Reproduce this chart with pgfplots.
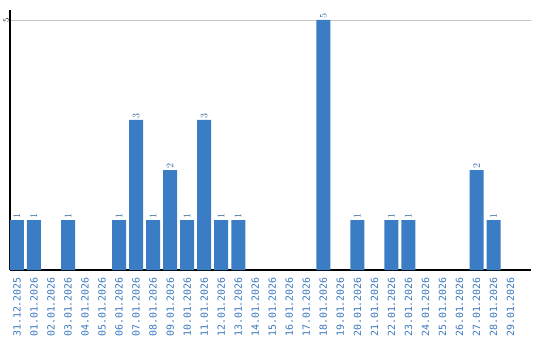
\documentclass[border=0pt]{standalone}
\usepackage{pgfplots}
\pgfplotsset{compat=1.18}
\usepackage{fontspec}
\setmainfont{DejaVu Sans}
\newfontfamily\lblfont{DejaVu Sans Mono}
\definecolor{barblue}{HTML}{3B7DC4}
\definecolor{lblblue}{HTML}{3A78BE}
\definecolor{vallbl}{HTML}{35659A}
\definecolor{gridgray}{HTML}{C8C8C8}
\begin{document}
\begin{tikzpicture}
\begin{axis}[
  at={(0pt,0pt)}, anchor=south west,
  scale only axis,
  width=521pt, height=260pt,
  xmin=-0.41, xmax=30.2,
  ymin=0, ymax=5.2,
  axis x line=bottom, axis y line=left,
  axis line style={-, black, line width=1.2pt},
  major tick length=0pt,
  ytick={5},
  yticklabel style={rotate=90, font=\lblfont\fontsize{8.5}{8.5}\selectfont, black, anchor=south, inner sep=1pt},
  ymajorgrids,
  grid style={gridgray, line width=0.8pt},
  xtick={0,...,29},
  xticklabels={31.12.2025,01.01.2026,02.01.2026,03.01.2026,04.01.2026,05.01.2026,06.01.2026,07.01.2026,08.01.2026,09.01.2026,10.01.2026,11.01.2026,12.01.2026,13.01.2026,14.01.2026,15.01.2026,16.01.2026,17.01.2026,18.01.2026,19.01.2026,20.01.2026,21.01.2026,22.01.2026,23.01.2026,24.01.2026,25.01.2026,26.01.2026,27.01.2026,28.01.2026,29.01.2026},
  xticklabel style={rotate=90, anchor=east, font=\lblfont\fontsize{9.9}{9.9}\selectfont, text=lblblue, inner sep=0pt, xshift=-7pt},
  ybar, bar width=14pt, bar shift=0pt,
  nodes near coords,
  every node near coord/.append style={rotate=90, anchor=west, font=\lblfont\fontsize{10}{10}\selectfont, text=vallbl, inner sep=1.5pt},
  clip=false,
]
\addplot[fill=barblue, draw=none] coordinates {
(0,1) (1,1) (3,1) (6,1) (7,3) (8,1) (9,2) (10,1) (11,3) (12,1) (13,1)
(18,5) (20,1) (22,1) (23,1) (27,2) (28,1)
};
\end{axis}
\pgfresetboundingbox
\path (-10pt,-70pt) rectangle (530pt,270pt);
\end{tikzpicture}
\end{document}
